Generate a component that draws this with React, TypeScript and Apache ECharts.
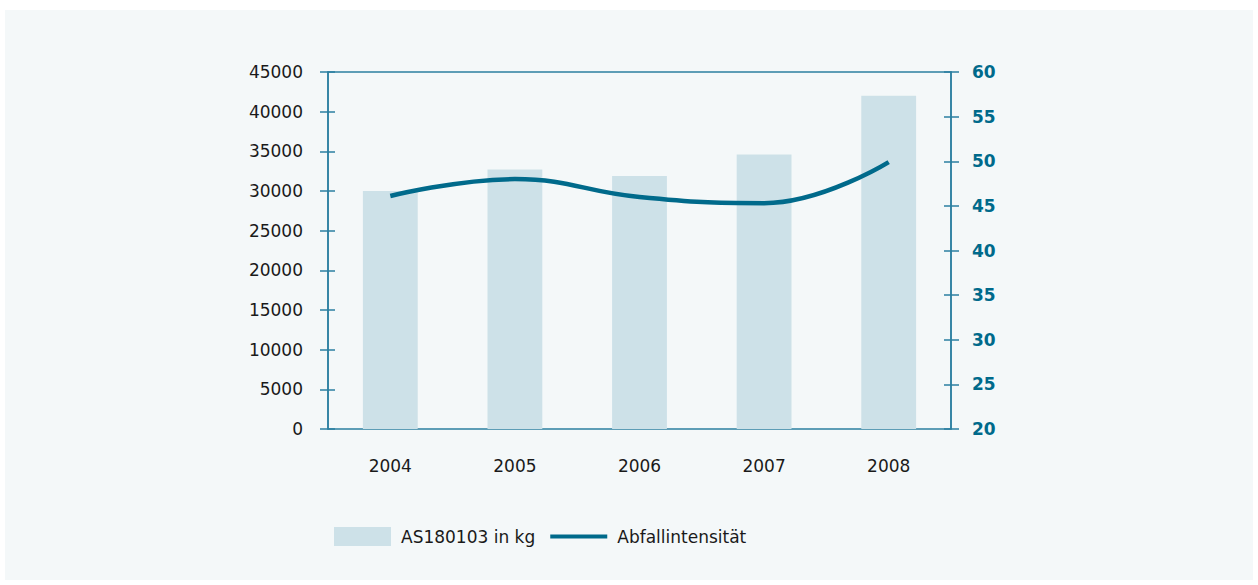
import React, { useEffect, useRef } from "react";
import * as echarts from "echarts";

const years = ["2004", "2005", "2006", "2007", "2008"];
const wasteKg = [30000, 32700, 31900, 34600, 42000];
const intensity = [46.1, 48.0, 46.0, 45.3, 49.9];
const barName = "AS180103 in kg";
const lineName = "Abfallintensität";

const AXIS = "#2b7fa0";
const TEAL = "#006a8b";
const BAR = "#cde1e8";
const FONT = "DejaVu Sans";

export default function App() {
  const ref = useRef<HTMLDivElement>(null);
  useEffect(() => {
    const chart = echarts.init(ref.current!, null, { renderer: "svg" });
    const leftBase = { min: 0, max: 45000, interval: 5000 };
    const rightBase = { min: 20, max: 60, interval: 5 };
    chart.setOption({
      animation: false,
      backgroundColor: "#ffffff",
      graphic: [
        { type: "rect", z: -10, silent: true, shape: { x: 5, y: 10, width: 1248, height: 570 }, style: { fill: "#f4f8f9" } },
      ],
      grid: {
        left: 328, right: 307, top: 72, bottom: 156,
        show: true, borderColor: AXIS, borderWidth: 1.5, backgroundColor: "transparent",
      },
      legend: {
        left: 334, top: 527, padding: 0, itemWidth: 57, itemHeight: 19, itemGap: 15,
        textStyle: { fontFamily: FONT, fontSize: 17, color: "#1a1a1a", padding: [0, 0, 0, 5] },
        data: [
          { name: barName, icon: "rect" },
          { name: lineName, icon: "path://M0,0M57,19M0,7.5L57,7.5L57,11.5L0,11.5Z", itemStyle: { color: TEAL, borderWidth: 0 } },
        ],
      },
      xAxis: {
        type: "category", data: years,
        axisLine: { show: false }, axisTick: { show: false },
        axisLabel: { fontFamily: FONT, fontSize: 17, color: "#1a1a1a", margin: 28 },
      },
      yAxis: [
        {
          type: "value", position: "left", ...leftBase,
          axisLine: { show: true, lineStyle: { color: AXIS, width: 1.5 } },
          axisTick: { show: true, length: 8, lineStyle: { color: AXIS, width: 1.5 } },
          splitLine: { show: false },
          axisLabel: { fontFamily: FONT, fontSize: 17, color: "#1a1a1a", margin: 25, formatter: (v: number) => String(v) },
        },
        {
          type: "value", position: "right", ...rightBase,
          axisLine: { show: true, lineStyle: { color: AXIS, width: 1.5 } },
          axisTick: { show: true, length: 8, lineStyle: { color: AXIS, width: 1.5 } },
          splitLine: { show: false },
          axisLabel: { fontFamily: FONT, fontSize: 17, fontWeight: "bold", color: TEAL, margin: 21 },
        },
        {
          type: "value", position: "left", ...leftBase,
          axisLine: { show: false },
          axisTick: { show: true, inside: true, length: 7, lineStyle: { color: AXIS, width: 1.5 } },
          splitLine: { show: false }, axisLabel: { show: false },
        },
        {
          type: "value", position: "right", ...rightBase,
          axisLine: { show: false },
          axisTick: { show: true, inside: true, length: 7, lineStyle: { color: AXIS, width: 1.5 } },
          splitLine: { show: false }, axisLabel: { show: false },
        },
      ],
      series: [
        {
          name: barName, type: "bar", data: wasteKg, yAxisIndex: 0,
          barWidth: "44%", itemStyle: { color: BAR }, z: 1,
        },
        {
          name: lineName, type: "line", data: intensity, yAxisIndex: 1,
          smooth: 0.45, symbol: "none", lineStyle: { color: TEAL, width: 4.5 },
          itemStyle: { color: TEAL }, z: 3,
        },
      ],
    });
    return () => chart.dispose();
  }, []);
  return <div ref={ref} style={{ position: "fixed", left: 0, top: 0, width: 1258, height: 585 }} />;
}
